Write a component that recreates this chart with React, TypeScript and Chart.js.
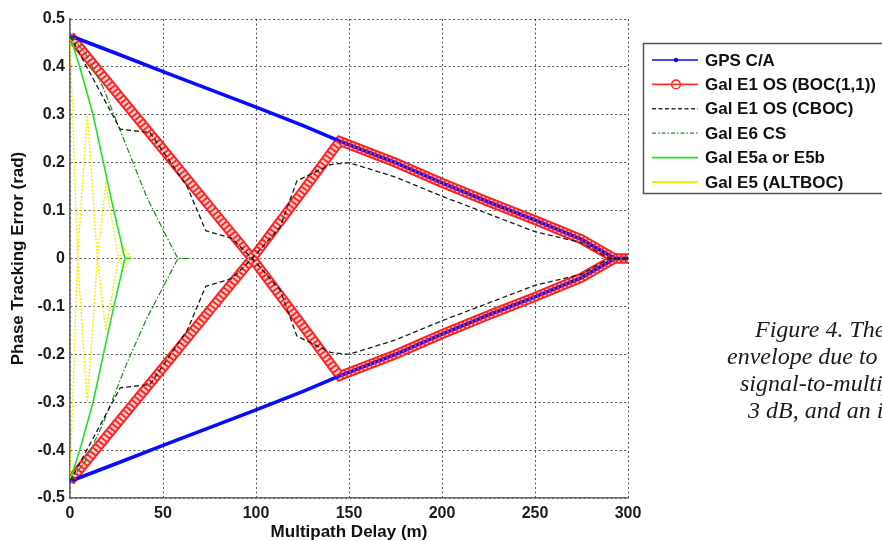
import React, { useEffect, useRef } from 'react';
import { Chart, registerables } from 'chart.js';

Chart.register(...registerables);

// Multipath phase tracking error envelopes (delay in metres, error in radians)
const seriesNames = [
  'GPS C/A',
  'Gal E1 OS (BOC(1,1))',
  'Gal E1 OS (CBOC)',
  'Gal E6 CS',
  'Gal E5a or E5b',
  'Gal E5 (ALTBOC)',
];

const xTicks = [0, 50, 100, 150, 200, 250, 300];
const yTicks = [-0.5, -0.4, -0.3, -0.2, -0.1, 0, 0.1, 0.2, 0.3, 0.4, 0.5];
const yTickLabels = ['-0.5', '-0.4', '-0.3', '-0.2', '-0.1', '0', '0.1', '0.2', '0.3', '0.4', '0.5'];

// GPS C/A
const gpsDelay = [0, 25, 50, 75, 100, 125, 145, 175, 200, 225, 250, 275, 293, 300];
const gpsUpper = [0.465, 0.428, 0.39, 0.353, 0.316, 0.278, 0.245, 0.2, 0.158, 0.118, 0.08, 0.04, 0, 0];
const gpsLower = [-0.465, -0.428, -0.39, -0.353, -0.316, -0.278, -0.245, -0.2, -0.158, -0.118, -0.08, -0.04, 0, 0];

// Galileo E1 OS BOC(1,1): the two branches cross near 98 m
const bocDelay = [0, 25, 50, 75, 98, 125, 145, 175, 200, 225, 250, 275, 293, 300];
const bocBranchA = [0.465, 0.346, 0.228, 0.109, 0, -0.14, -0.245, -0.2, -0.158, -0.118, -0.08, -0.04, 0, 0];
const bocBranchB = [-0.465, -0.346, -0.228, -0.109, 0, 0.14, 0.245, 0.2, 0.158, 0.118, 0.08, 0.04, 0, 0];

// Galileo E1 OS CBOC
const cbocDelay = [0, 27, 43, 63, 73, 87, 98, 113, 122, 140, 150, 175, 200, 225, 250, 275, 290, 300];
const cbocBranchA = [0.465, 0.27, 0.263, 0.15, 0.058, 0.042, 0, -0.066, -0.162, -0.196, -0.2, -0.17, -0.13, -0.093, -0.056, -0.033, 0, 0];
const cbocBranchB = [-0.465, -0.27, -0.263, -0.15, -0.058, -0.042, 0, 0.066, 0.162, 0.196, 0.2, 0.17, 0.13, 0.093, 0.056, 0.033, 0, 0];

// Galileo E6 CS
const e6Delay = [0, 8, 17.7, 30.6, 41.3, 52, 58, 64];
const e6Upper = [0.465, 0.43, 0.358, 0.232, 0.128, 0.045, 0, 0];
const e6Lower = [-0.465, -0.425, -0.345, -0.218, -0.125, -0.045, 0, 0];

// Galileo E5a / E5b
const e5abDelay = [0, 6, 12.4, 17.7, 23, 29.5, 32];
const e5abUpper = [0.465, 0.39, 0.3, 0.205, 0.11, 0, 0];
const e5abLower = [-0.465, -0.39, -0.3, -0.205, -0.11, 0, 0];

// Galileo E5 AltBOC
const altbocDelay = [0, 4, 9.3, 14.7, 19.2, 26, 29.5, 33];
const altbocUpper = [0.465, 0, 0.303, 0, 0.157, 0, 0.02, 0];
const altbocLower = [-0.465, 0, -0.3, 0, -0.15, 0, -0.02, 0];

const captionLines = ['Figure 4. The', 'envelope due to', 'signal-to-multip', '3 dB, and an i'];
const captionLeft = [755, 727, 740, 748];
const captionBaseline = [337, 364, 391, 418];

const pts = (xs: number[], ys: number[]) => xs.map((x, i) => ({ x, y: ys[i] }));

const legendPlugin = {
  id: 'boxLegend',
  afterDraw(chart: any) {
    const ctx: CanvasRenderingContext2D = chart.ctx;
    const entries = chart.data.datasets.filter((d: any) => d.inLegend);
    entries.sort((a: any, b: any) => a.legendIndex - b.legendIndex);
    ctx.save();
    ctx.fillStyle = '#ffffff';
    ctx.fillRect(643, 43, 260, 150);
    ctx.strokeStyle = '#555555';
    ctx.lineWidth = 1.5;
    ctx.strokeRect(643.5, 43.5, 260, 150);
    ctx.font = 'bold 17px "Liberation Sans", Arial, sans-serif';
    ctx.textBaseline = 'middle';
    entries.forEach((ds: any, i: number) => {
      const y = 60 + i * 24.4;
      ctx.beginPath();
      ctx.setLineDash(ds.legendDash || []);
      ctx.strokeStyle = ds.legendColor;
      ctx.lineWidth = ds.legendWidth;
      ctx.moveTo(652, y);
      ctx.lineTo(698, y);
      ctx.stroke();
      ctx.setLineDash([]);
      if (ds.legendMarker === 'dot') {
        ctx.fillStyle = ds.legendColor;
        ctx.beginPath();
        ctx.arc(676, y, 2.2, 0, Math.PI * 2);
        ctx.fill();
      } else if (ds.legendMarker === 'circle') {
        ctx.strokeStyle = ds.legendColor;
        ctx.lineWidth = 1.6;
        ctx.beginPath();
        ctx.arc(676, y, 4.3, 0, Math.PI * 2);
        ctx.stroke();
      }
      ctx.fillStyle = '#111111';
      ctx.fillText(ds.label, 705, y + 1);
    });
    ctx.restore();
  },
};

export default function App() {
  const canvasRef = useRef<HTMLCanvasElement | null>(null);

  useEffect(() => {
    const canvas = canvasRef.current;
    if (!canvas) return;

    const line = (extra: any) => ({
      showLine: true,
      pointRadius: 0,
      pointHoverRadius: 0,
      fill: false,
      tension: 0,
      ...extra,
    });

    const gpsStyle = { borderColor: '#0a0aff', borderWidth: 3.6, order: 7 };
    // BOC(1,1) circle markers rendered as a band: red rim, pale core, red ring crossings
    const bocRim = { borderColor: '#ff2020', borderWidth: 10, order: 9 };
    const bocCore = { borderColor: '#ffcaca', borderWidth: 6.2, order: 8 };
    const bocRings = { borderColor: '#ff2020', borderWidth: 7, borderDash: [1.8, 2.6], order: 6 };
    const cbocStyle = { borderColor: '#1a1a1a', borderWidth: 1.3, borderDash: [5, 3], order: 1 };
    const e6Style = { borderColor: '#1f8a1f', borderWidth: 1.2, borderDash: [6, 2, 1.5, 2], order: 2 };
    const e5Style = { borderColor: '#22e022', borderWidth: 1.6, order: 3 };
    const altStyle = { borderColor: '#f2ee00', borderWidth: 1.4, borderDash: [2, 1.5], order: 4 };

    const datasets: any[] = [
      line({ label: seriesNames[0], data: pts(gpsDelay, gpsUpper), ...gpsStyle, inLegend: true, legendIndex: 0, legendColor: '#0a0aff', legendWidth: 1.6, legendMarker: 'dot' }),
      line({ label: seriesNames[0], data: pts(gpsDelay, gpsLower), ...gpsStyle }),
      line({ label: seriesNames[1], data: pts(bocDelay, bocBranchA), ...bocRim, inLegend: true, legendIndex: 1, legendColor: '#ff3030', legendWidth: 1.6, legendMarker: 'circle' }),
      line({ label: seriesNames[1], data: pts(bocDelay, bocBranchB), ...bocRim }),
      line({ label: seriesNames[1], data: pts(bocDelay, bocBranchA), ...bocCore }),
      line({ label: seriesNames[1], data: pts(bocDelay, bocBranchB), ...bocCore }),
      line({ label: seriesNames[1], data: pts(bocDelay, bocBranchA), ...bocRings }),
      line({ label: seriesNames[1], data: pts(bocDelay, bocBranchB), ...bocRings }),
      line({ label: seriesNames[2], data: pts(cbocDelay, cbocBranchA), ...cbocStyle, inLegend: true, legendIndex: 2, legendColor: '#333333', legendWidth: 1.4, legendDash: [4, 2.5] }),
      line({ label: seriesNames[2], data: pts(cbocDelay, cbocBranchB), ...cbocStyle }),
      line({ label: seriesNames[3], data: pts(e6Delay, e6Upper), ...e6Style, inLegend: true, legendIndex: 3, legendColor: '#1f8a1f', legendWidth: 1.3, legendDash: [4, 2, 1.5, 2] }),
      line({ label: seriesNames[3], data: pts(e6Delay, e6Lower), ...e6Style }),
      line({ label: seriesNames[4], data: pts(e5abDelay, e5abUpper), ...e5Style, inLegend: true, legendIndex: 4, legendColor: '#22e022', legendWidth: 1.8 }),
      line({ label: seriesNames[4], data: pts(e5abDelay, e5abLower), ...e5Style }),
      line({ label: seriesNames[5], data: pts(altbocDelay, altbocUpper), ...altStyle, inLegend: true, legendIndex: 5, legendColor: '#f2ee00', legendWidth: 1.8 }),
      line({ label: seriesNames[5], data: pts(altbocDelay, altbocLower), ...altStyle }),
    ];

    const tickFont = { family: '"Liberation Sans", Arial, sans-serif', size: 16, weight: 'bold' as const };
    const titleFont = { family: '"Liberation Sans", Arial, sans-serif', size: 17, weight: 'bold' as const, lineHeight: 1 };
    const gridStyle = { color: 'rgba(30,30,30,0.75)', lineWidth: 1, drawTicks: false };
    const axisBorder = { display: true, color: '#6a6a6a', width: 1.6, dash: [2, 2.5] };

    const chart = new Chart(canvas, {
      type: 'scatter',
      data: { datasets },
      plugins: [legendPlugin],
      options: {
        animation: false,
        responsive: false,
        devicePixelRatio: 1,
        layout: { padding: { top: 19, right: 254, left: 0, bottom: 0 } },
        plugins: { legend: { display: false }, tooltip: { enabled: false } },
        scales: {
          x: {
            type: 'linear',
            min: 0,
            max: 300,
            afterFit: (s: any) => { s.height = 43; },
            afterBuildTicks: (s: any) => { s.ticks = xTicks.map((v) => ({ value: v })); },
            ticks: { font: tickFont, color: '#1a1a1a', padding: 6, callback: (v: any) => String(v) },
            grid: gridStyle,
            border: axisBorder,
            title: { display: true, text: 'Multipath Delay (m)', font: titleFont, color: '#111', padding: { top: 0, bottom: 0 } },
          },
          y: {
            type: 'linear',
            min: -0.5,
            max: 0.5,
            afterFit: (s: any) => { s.width = 70; },
            afterBuildTicks: (s: any) => { s.ticks = yTicks.map((v) => ({ value: v })); },
            ticks: { font: tickFont, color: '#1a1a1a', padding: 5, callback: (_v: any, i: number) => yTickLabels[i] },
            grid: gridStyle,
            border: axisBorder,
            title: { display: true, text: 'Phase Tracking Error (rad)', font: titleFont, color: '#111', padding: { top: 10, bottom: 0 } },
          },
        },
      },
    } as any);

    return () => chart.destroy();
  }, []);

  return (
    <div style={{ position: 'fixed', left: 0, top: 0, width: 882, height: 541, overflow: 'hidden', background: '#fff' }}>
      <canvas ref={canvasRef} width={882} height={541} style={{ display: 'block', width: 882, height: 541 }} />
      {captionLines.map((t, i) => (
        <div
          key={i}
          style={{
            position: 'absolute',
            left: captionLeft[i],
            top: captionBaseline[i] - 20.1,
            fontFamily: '"Liberation Serif", "Times New Roman", serif',
            fontStyle: 'italic',
            fontSize: 24,
            lineHeight: 1,
            whiteSpace: 'nowrap',
            color: '#1a1a1a',
          }}
        >
          {t}
        </div>
      ))}
    </div>
  );
}
